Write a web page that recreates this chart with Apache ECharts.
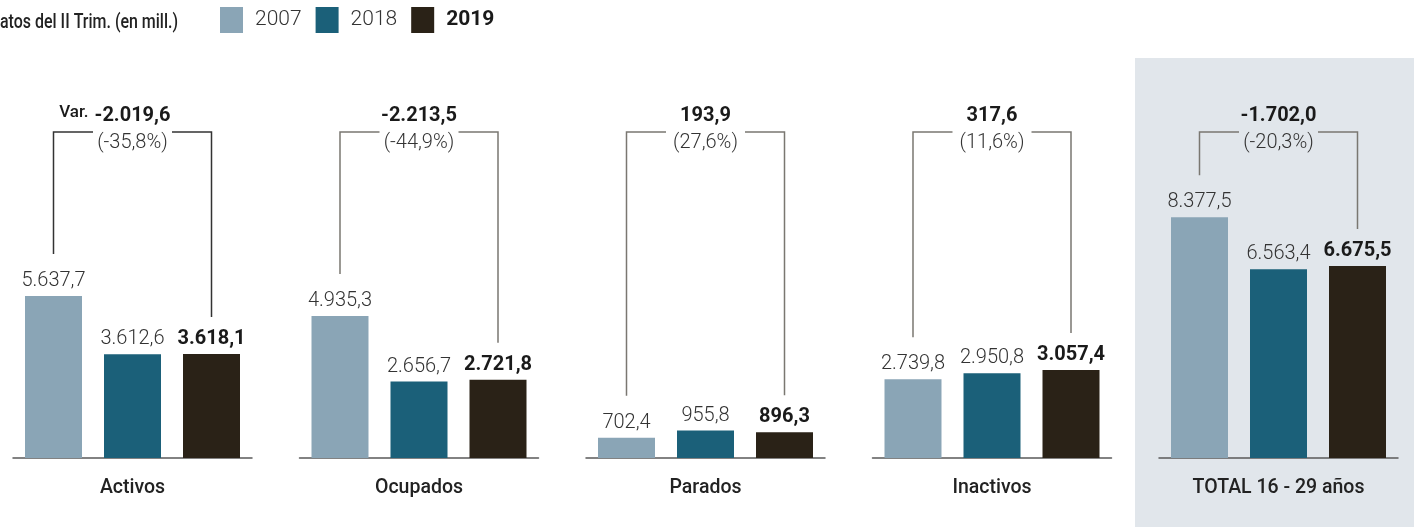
<!DOCTYPE html>
<html>
<head>
<meta charset="utf-8">
<script src="https://cdn.jsdelivr.net/npm/echarts@6/dist/echarts.min.js"></script>
<style>
  html, body { margin: 0; padding: 0; background: #fff; }
  #chart { width: 1414px; height: 527px; }
</style>
</head>
<body>
<div id="chart"></div>
<script>
const groups = ['Activos', 'Ocupados', 'Parados', 'Inactivos', 'TOTAL 16 - 29 años'];
const years = ['2007', '2018', '2019'];
const v2007 = [5637.7, 4935.3, 702.4, 2739.8, 8377.5];
const v2018 = [3612.6, 2656.7, 955.8, 2950.8, 6563.4];
const v2019 = [3618.1, 2721.8, 896.3, 3057.4, 6675.5];
const values = [v2007, v2018, v2019];
const colors = ['#8aa5b6', '#1b6079', '#2a2217'];

const FONT = "Roboto, 'DejaVu Sans Condensed', sans-serif";
const gridLefts = [13, 299.5, 586, 872.5, 1159];

// formato español: 5.637,7
function fmt(v, dec) {
  const s = Math.abs(v).toFixed(dec).split('.');
  const ent = s[0].replace(/\B(?=(\d{3})+(?!\d))/g, '.');
  return (v < 0 ? '-' : '') + ent + (dec ? ',' + s[1] : '');
}

// medir textos para colocar "Var." y el título
const ctx = document.createElement('canvas').getContext('2d');
function textW(txt, font) { ctx.font = font; return ctx.measureText(txt).width; }

const chart = echarts.init(document.getElementById('chart'));

const grids = [], xAxes = [], yAxes = [], series = [];
groups.forEach((g, gi) => {
  grids.push({ left: gridLefts[gi], width: 239, top: 113, bottom: 69 });
  xAxes.push({
    type: 'category', gridIndex: gi, data: [g],
    axisTick: { show: false },
    axisLine: { lineStyle: { color: '#5a5a5a', width: 1.5 } },
    axisLabel: { fontSize: 19.5, fontWeight: 500, color: '#222', margin: 20, fontFamily: FONT }
  });
  yAxes.push({ type: 'value', gridIndex: gi, min: 0, max: 12000, show: false });
  years.forEach((y, yi) => {
    series.push({
      type: 'bar', name: y, xAxisIndex: gi, yAxisIndex: gi,
      data: [values[yi][gi]],
      barWidth: 57, barGap: '38.6%',
      itemStyle: { color: colors[yi] },
      label: {
        show: true, position: 'top', distance: 5,
        fontSize: 20, fontFamily: FONT,
        fontWeight: yi === 2 ? 'bold' : 300,
        color: yi === 2 ? '#1a1a1a' : '#333',
        formatter: (p) => fmt(p.value, 1)
      }
    });
  });
});

const panel = {
  id: 'panel', type: 'rect', z: -10,
  shape: { x: 1135, y: 58, width: 279, height: 469 },
  style: { fill: '#e1e6eb' }
};
const titleFont = '500 20px ' + FONT;
const titleScale = 178 / textW('atos del II Trim. (en mill.)', titleFont);
const title = {
  id: 'title', type: 'text', x: 178, y: 23, scaleX: titleScale,
  style: { text: 'Datos del II Trim. (en mill.)', align: 'right', verticalAlign: 'middle',
           font: titleFont, fill: '#222' }
};

chart.setOption({
  animation: false,
  legend: {
    left: 220, top: 7, padding: 0, itemWidth: 23, itemHeight: 26, itemGap: 14, icon: 'rect',
    data: [{ name: '2007' }, { name: '2018' }, { name: '2019', textStyle: { fontWeight: 'bold', color: '#1a1a1a' } }],
    textStyle: { fontSize: 21, fontWeight: 300, color: '#333', fontFamily: FONT, padding: [0, 0, 0, 7], width: 47 }
  },
  grid: grids,
  xAxis: xAxes,
  yAxis: yAxes,
  series: series,
  graphic: [panel, title]
});

// corchetes de variación 2007 -> 2019
const model = chart.getModel();
function barTop(si) {
  const l = model.getSeriesByIndex(si).getData().getItemLayout(0);
  return { cx: l.x + l.width / 2, top: Math.min(l.y, l.y + l.height) };
}
const topY = 132;
const lineColor = ['#333', '#7a7771', '#7a7771', '#7a7771', '#7a7771'];
const varFont = 'bold 20px ' + FONT;
const extra = [];
groups.forEach((g, gi) => {
  const a = barTop(gi * 3), c = barTop(gi * 3 + 2);
  const mid = (a.cx + c.cx) / 2;
  const diff = v2019[gi] - v2007[gi];
  const pct = diff / v2007[gi] * 100;
  const ls = { stroke: lineColor[gi], lineWidth: 1.5, fill: null };
  extra.push({ id: 'bl' + gi, type: 'polyline', shape: { points: [[mid - 39.5, topY], [a.cx, topY], [a.cx, a.top - 42]] }, style: ls });
  extra.push({ id: 'br' + gi, type: 'polyline', shape: { points: [[mid + 39.5, topY], [c.cx, topY], [c.cx, c.top - 37]] }, style: ls });
  extra.push({ id: 'tv' + gi, type: 'text', x: mid, y: 116,
    style: { text: fmt(diff, 1), align: 'center', verticalAlign: 'middle', font: varFont, fill: '#1a1a1a' } });
  extra.push({ id: 'tp' + gi, type: 'text', x: mid, y: 143,
    style: { text: '(' + fmt(pct, 1) + '%)', align: 'center', verticalAlign: 'middle', font: '300 20px ' + FONT, fill: '#333' } });
  if (gi === 0) {
    const w = textW(fmt(diff, 1), varFont);
    extra.push({ id: 'var', type: 'text', x: mid - w / 2 - 6, y: 113,
      style: { text: 'Var.', align: 'right', verticalAlign: 'middle', font: '500 17px ' + FONT, fill: '#1a1a1a' } });
  }
});
chart.setOption({ graphic: [panel, title].concat(extra) });
</script>
</body>
</html>
